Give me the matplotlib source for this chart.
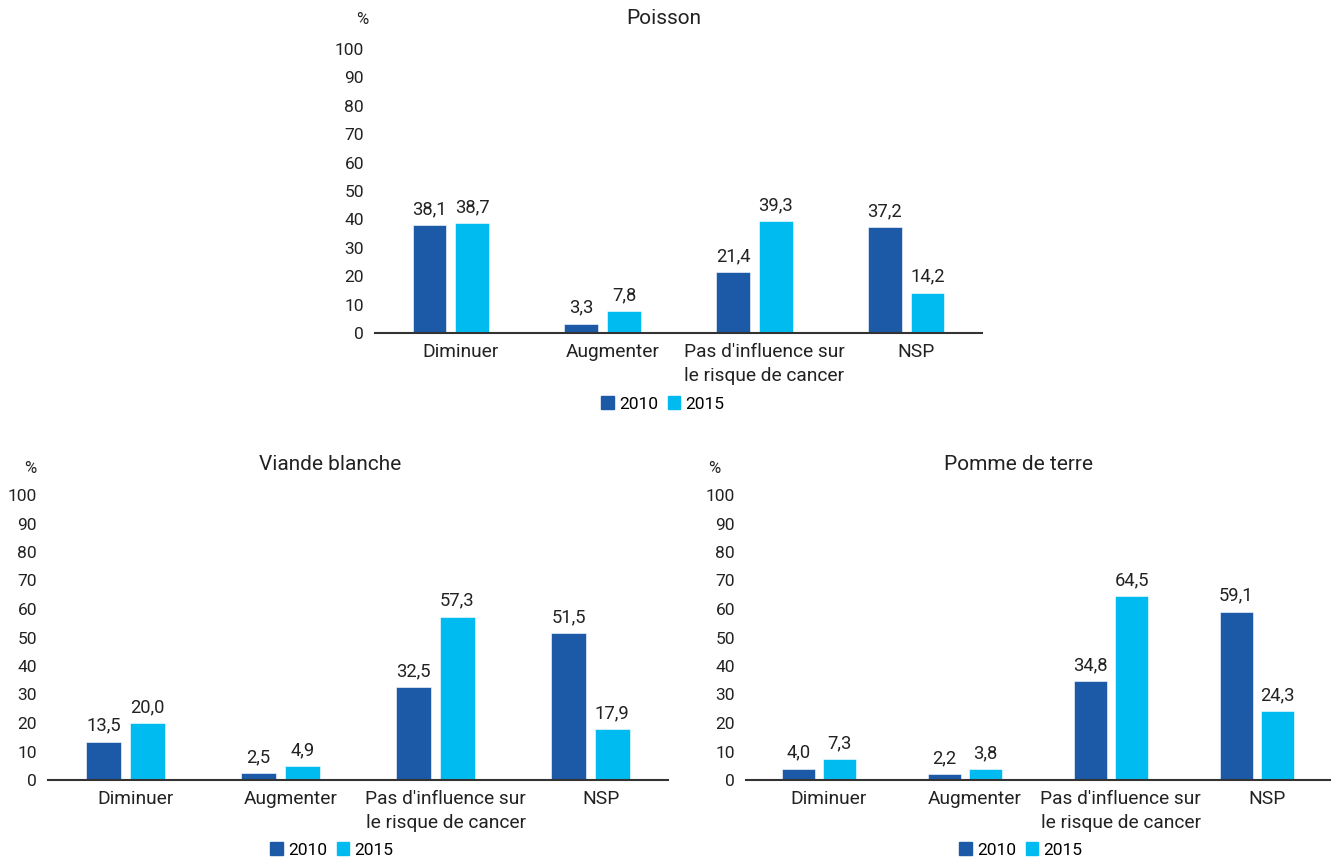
import numpy as np
import matplotlib.pyplot as plt
from matplotlib.patches import Patch

plt.rcParams['font.family'] = ['Roboto', 'DejaVu Sans']

categories = ['Diminuer', 'Augmenter', "Pas d'influence sur\nle risque de cancer", 'NSP']
years = ['2010', '2015']

poisson_2010 = [38.1, 3.3, 21.4, 37.2]
poisson_2015 = [38.7, 7.8, 39.3, 14.2]
viande_2010 = [13.5, 2.5, 32.5, 51.5]
viande_2015 = [20.0, 4.9, 57.3, 17.9]
pomme_2010 = [4.0, 2.2, 34.8, 59.1]
pomme_2015 = [7.3, 3.8, 64.5, 24.3]

yticks = list(range(0, 101, 10))

dark = '#1c5aa8'
light = '#00bbef'
txt = '#222222'

W, H = 1342, 859
fig = plt.figure(figsize=(W / 100, H / 100), dpi=100)


def px_axes(x0, x1, ybot, ytop):
    return fig.add_axes([x0 / W, 1 - ybot / H, (x1 - x0) / W, (ybot - ytop) / H])


def draw(ax, v2010, v2015, title, title_xy, pct_xy, leg_xy):
    x = np.arange(len(categories))
    w = 0.222
    off = 0.141
    b1 = ax.bar(x - off, v2010, w, color=dark, edgecolor='white', linewidth=0.4)
    b2 = ax.bar(x + off, v2015, w, color=light, edgecolor='white', linewidth=0.4)
    for bars in (b1, b2):
        for r in bars:
            h = r.get_height()
            ax.text(r.get_x() + r.get_width() / 2, h + 2.4, f'{h:.1f}'.replace('.', ','),
                    ha='center', va='bottom', fontsize=13.2, color=txt)
    ax.set_xlim(-0.5, 3.5)
    ax.set_ylim(0, 100)
    ax.set_yticks(yticks)
    # labels sit a little right of the bar pairs in the original
    ax.set_xticks(x + 0.066)
    ax.set_xticklabels(categories, fontsize=13.8, color=txt, linespacing=1.45)
    ax.tick_params(axis='y', length=0, pad=8, labelsize=12.5, labelcolor=txt)
    ax.tick_params(axis='x', length=0, pad=7)
    for s in ('top', 'right', 'left'):
        ax.spines[s].set_visible(False)
    ax.spines['bottom'].set_color('#333333')
    ax.spines['bottom'].set_linewidth(1.5)
    fig.text(title_xy[0] / W, 1 - title_xy[1] / H, title, ha='center', va='center',
             fontsize=15, color=txt)
    fig.text(pct_xy[0] / W, 1 - pct_xy[1] / H, '%', ha='center', va='center',
             fontsize=12, color=txt)
    handles = [Patch(color=dark), Patch(color=light)]
    fig.legend(handles, years, loc='center', bbox_to_anchor=(leg_xy[0] / W, 1 - leg_xy[1] / H),
               ncol=2, frameon=False, fontsize=12.5, handlelength=0.7, handleheight=0.7,
               handletextpad=0.3, columnspacing=0.6, borderaxespad=0)


ax1 = px_axes(375, 982, 333, 49)
draw(ax1, poisson_2010, poisson_2015, 'Poisson', (664, 18), (362, 20), (663, 404))

ax2 = px_axes(48, 668, 780, 495)
draw(ax2, viande_2010, viande_2015, 'Viande blanche', (330, 465), (30, 468), (332, 850))

ax3 = px_axes(746, 1330, 780, 495)
draw(ax3, pomme_2010, pomme_2015, 'Pomme de terre', (1019, 465), (714, 468), (1021, 850))

fig.savefig('out.png', dpi=100)
